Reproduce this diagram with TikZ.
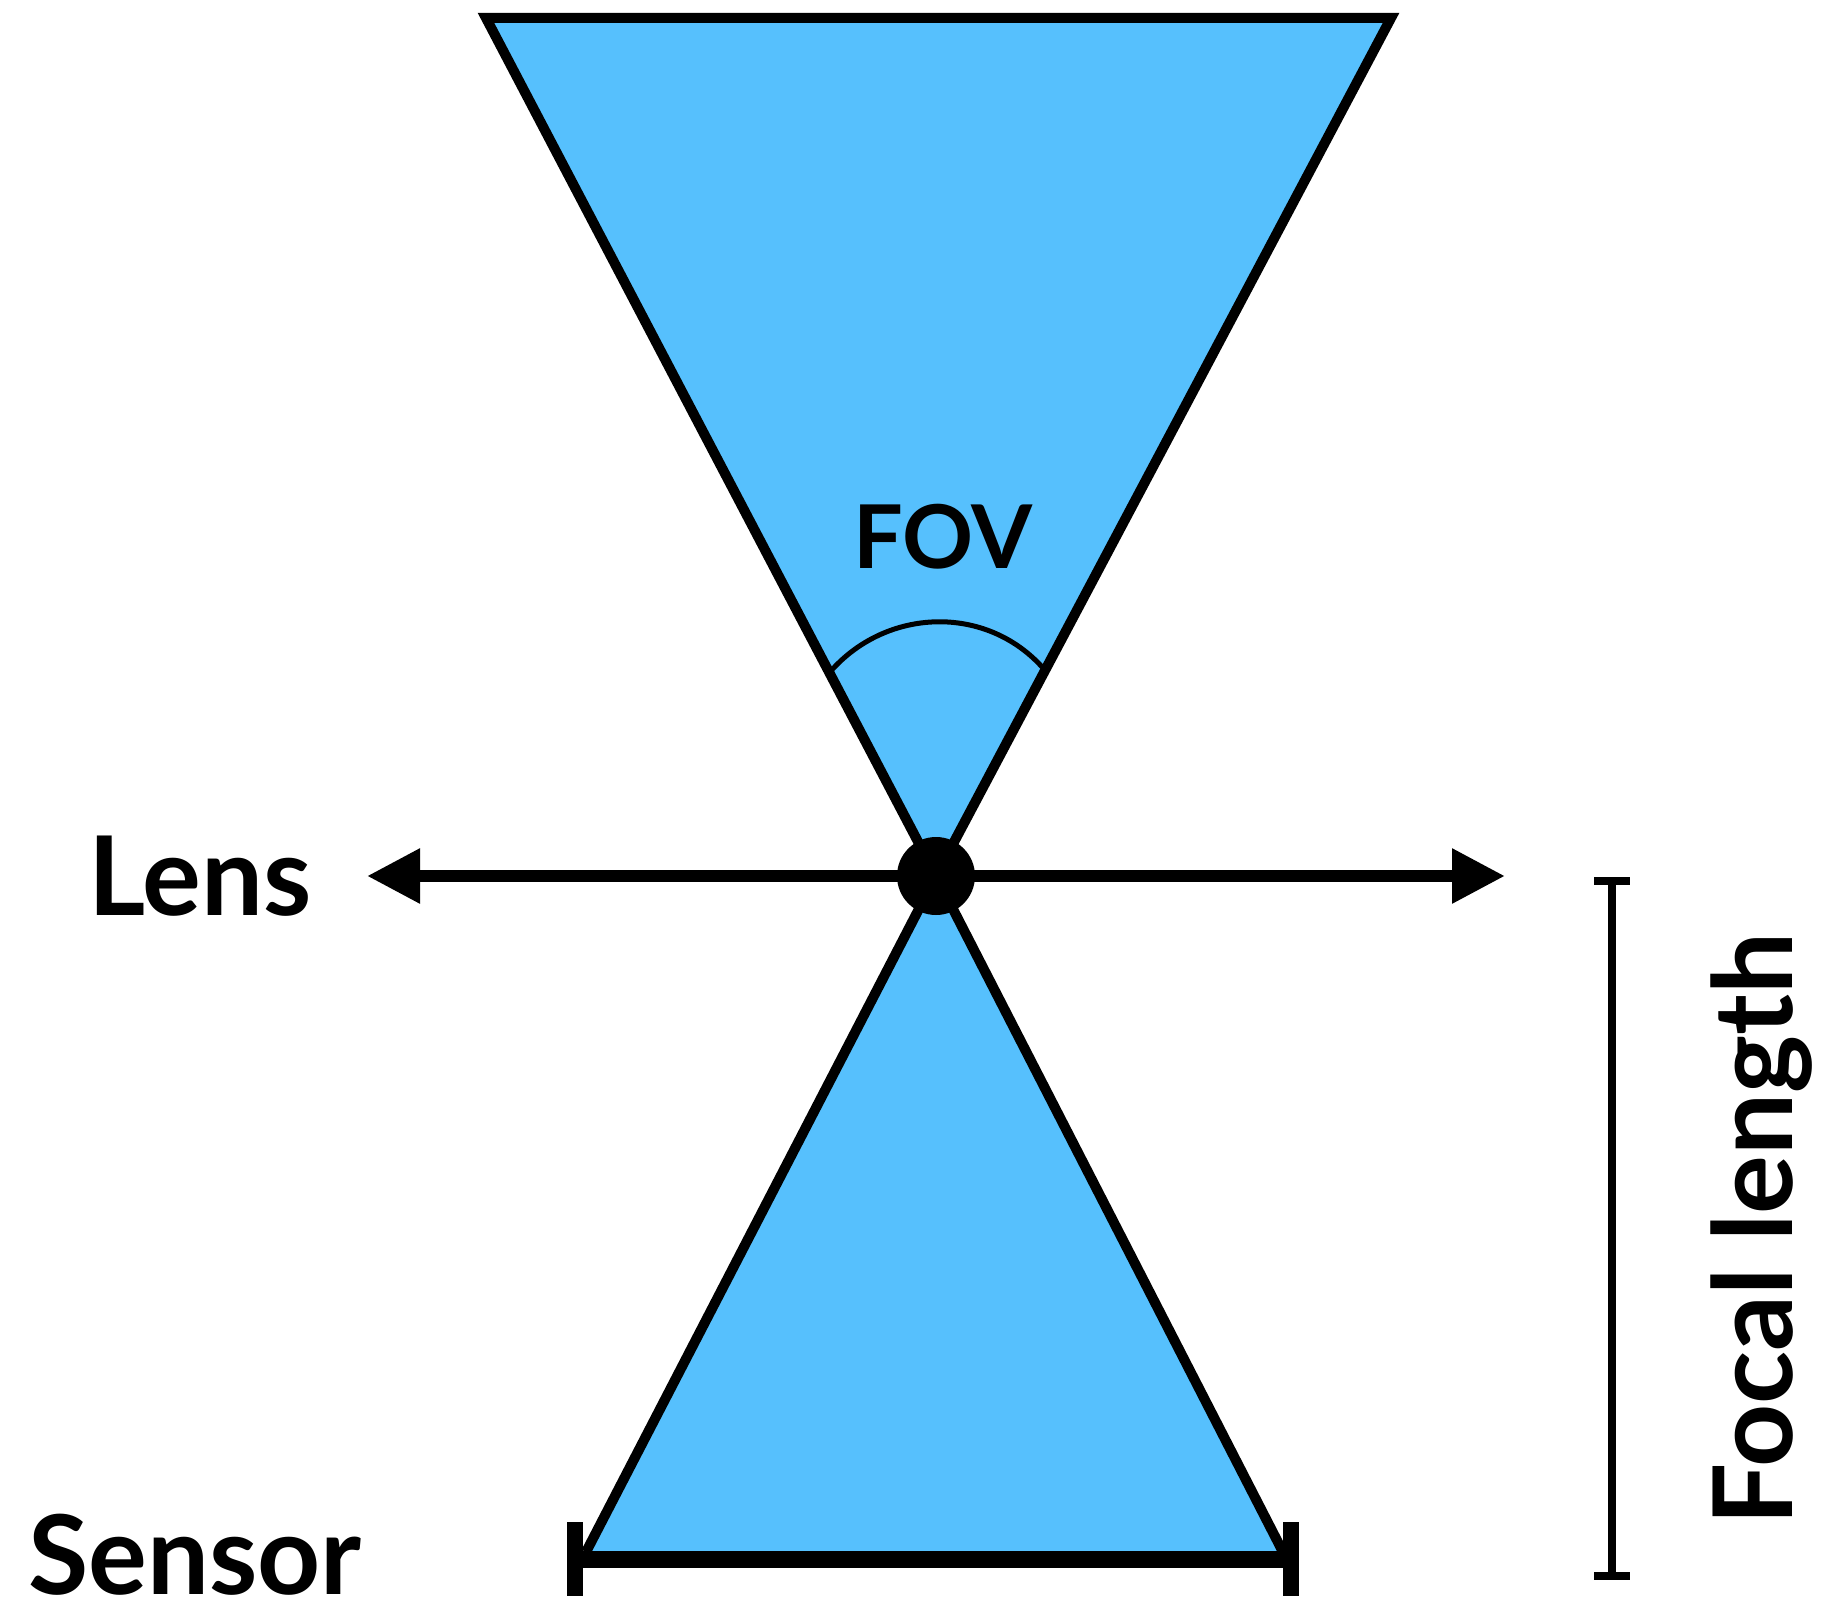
\documentclass[tikz,border=0pt]{standalone}
\usepackage{fontspec}
\setmainfont{Lato}
\usetikzlibrary{arrows.meta}
\definecolor{fovblue}{HTML}{56C0FD}
\begin{document}
\begin{tikzpicture}[x=1pt,y=-1pt,
  edge/.style={line width=10pt,draw=black},
  label/.style={inner sep=0pt,font=\bfseries\fontsize{110}{130}\selectfont},
  tick/.style={line width=16pt,draw=black}]
\useasboundingbox (0,0) rectangle (1825,1605);
% key points
\coordinate (TL) at (486,18);
\coordinate (TR) at (1391,18);
\coordinate (A) at (936,876);
\coordinate (BL) at (586,1552);
\coordinate (BR) at (1283,1552);
% upper cone
\fill[fovblue] (TL) -- (TR) -- (A) -- cycle;
\draw[edge,line join=miter] (A) -- (TL) -- (TR) -- (A);
% lower cone
\fill[fovblue] (A) -- (BL) -- (BR) -- cycle;
\draw[edge] (BL) -- (A) -- (BR);
% FOV arc
\coordinate (arcL) at (830,672);
\coordinate (arcR) at (1043,668);
\draw[line width=5pt] (arcL) .. controls (886,607.5) and (986,604) .. (arcR);
% lens axis
\coordinate (axL) at (367,876);
\coordinate (axR) at (1505,876);
\draw[line width=12pt,{Triangle[length=53pt,width=52pt]}-{Triangle[length=53pt,width=52pt]}] (axL) -- (axR);
\node[circle,fill=black,minimum size=78pt,inner sep=0pt] (O) at (A) {};
% sensor
\coordinate (sL) at (575,1559);
\coordinate (sR) at (1291,1559);
\draw[line width=17pt] (sL) -- (sR);
\draw[tick] (575,1522) -- (575,1596);
\draw[tick] (1291,1522) -- (1291,1596);
% focal length bar
\coordinate (fT) at (1612,881);
\coordinate (fB) at (1612,1576);
\draw[line width=8pt] (fT) -- (fB);
\draw[line width=8pt] (1594,881) -- (1630,881);
\draw[line width=8pt] (1594,1576) -- (1630,1576);
% labels
\node[label,anchor=base west] (lens) at (88,915) {Lens};
\node[label,anchor=base west] (sensor) at (28,1594) {Sensor};
\node[label,anchor=base,font=\bfseries\fontsize{88}{100}\selectfont] (fov) at (943,568) {FOV};
\node[label,anchor=base,rotate=90] (focal) at (1792,1229) {Focal length};
\end{tikzpicture}
\end{document}
